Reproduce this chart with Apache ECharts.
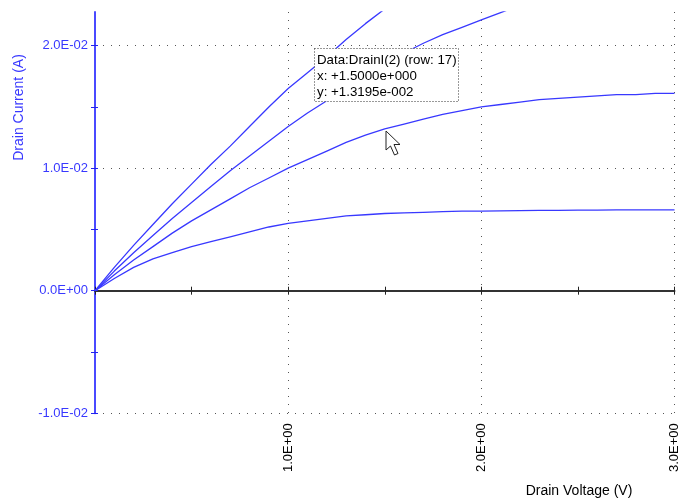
<!DOCTYPE html>
<html>
<head>
<meta charset="utf-8">
<script src="https://cdn.jsdelivr.net/npm/echarts@6/dist/echarts.min.js"></script>
<style>html,body{margin:0;padding:0;background:#fff}#c{width:681px;height:498px}</style>
</head>
<body>
<div id="c"></div>
<script>
// ---- data ----
var drainVoltage = [0,0.1,0.2,0.3,0.4,0.5,0.6,0.7,0.8,0.9,1.0,1.1,1.2,1.3,1.4,1.5,1.6,1.7,1.8,1.9,2.0,2.1,2.2,2.3,2.4,2.5,2.6,2.7,2.8,2.9,3.0];
var drainI1 = [0,0.0010,0.0019,0.0026,0.0031,0.0036,0.0040,0.0044,0.0048,0.0052,0.0055,0.0057,0.0059,0.0061,0.0062,0.0063,0.00635,0.0064,0.00645,0.0065,0.0065,0.00652,0.00654,0.00655,0.00656,0.00657,0.00658,0.00659,0.0066,0.0066,0.0066];
var drainI2 = [0,0.0013,0.0025,0.0036,0.0047,0.0057,0.0066,0.0075,0.0084,0.0092,0.0100,0.0107,0.0114,0.0121,0.0127,0.0132,0.0136,0.0140,0.0144,0.0147,0.0150,0.0152,0.0154,0.0156,0.0157,0.0158,0.0159,0.0160,0.0160,0.0161,0.0161];
var drainI3 = [0,0.0016,0.0031,0.0045,0.0059,0.0072,0.0085,0.0098,0.0110,0.0122,0.0134,0.0145,0.0155,0.0165,0.0176,0.0185,0.0194,0.0202,0.0209,0.0215,0.0221,0.0227,0.0233];
var drainI4 = [0,0.0019,0.0037,0.0054,0.0071,0.0087,0.0103,0.0118,0.0134,0.0150,0.0165,0.0178,0.0191,0.0205,0.0218,0.0230,0.0241];
var xTickValues = [1,2,3];
var xTickLabels = ['1.0E+00','2.0E+00','3.0E+00'];
var yTickValues = [-0.01,0,0.01,0.02];
var yTickLabels = ['-1.0E-02','0.0E+00','1.0E-02','2.0E-02'];
var yMinorTicks = [-0.01,-0.005,0,0.005,0.01,0.015,0.02];
var tipLines = ['Data:DrainI(2) (row: 17)','x: +1.5000e+000','y: +1.3195e-002'];

// ---- layout ----
var FONT = "'Liberation Sans', Arial, sans-serif";
var BLUE = '#3838ff';
var yMin = -0.01, yMax = 0.02275;

function pairs(ys){ return ys.map(function(y,i){ return [drainVoltage[i], y]; }); }
function labelFrom(vals, labels){
  return function(v){
    for (var i=0;i<vals.length;i++){ if (Math.abs(v - vals[i]) < 1e-9) return labels[i]; }
    return '';
  };
}
var dotted = {color:'#555', width:1, type:[1,7]};

var chart = echarts.init(document.getElementById('c'), null, {renderer:'canvas'});
var lineSeries = [drainI1, drainI2, drainI3, drainI4].map(function(d){
  return {type:'line', xAxisIndex:0, yAxisIndex:0, data:pairs(d), showSymbol:false, symbol:'none',
    clip:true, lineStyle:{color:BLUE, width:1.3}, silent:true, animation:false, z:5};
});

chart.setOption({
  animation:false,
  backgroundColor:'#fff',
  grid:[{left:95, right:3, top:12, bottom:84.8}],
  xAxis:[
    {type:'value', min:0, max:3, interval:0.5, position:'bottom',
      axisLine:{show:true, onZero:true, lineStyle:{color:'#333', width:2}},
      axisTick:{show:true, length:4, lineStyle:{color:'#222', width:1}},
      axisLabel:{show:false}, splitLine:{show:false}},
    {type:'value', min:0, max:3, interval:0.5, position:'bottom',
      axisLine:{show:false, onZero:true},
      axisTick:{show:true, inside:true, length:4, lineStyle:{color:'#222', width:1}},
      axisLabel:{show:false}, splitLine:{show:false}},
    {type:'value', min:0, max:3, interval:1, position:'bottom',
      axisLine:{show:false, onZero:false}, axisTick:{show:false},
      axisLabel:{show:true, rotate:90, margin:10, color:'#000', fontFamily:FONT, fontSize:13,
        formatter:labelFrom(xTickValues, xTickLabels), showMinLabel:false},
      splitLine:{show:true, lineStyle:dotted, showMinLine:false}}
  ],
  yAxis:[
    // line, outside ticks, labels
    {type:'value', min:yMin, max:yMax, interval:0.01, position:'left',
      axisLine:{show:true, onZero:false, lineStyle:{color:'#4a4aff', width:2}},
      axisTick:{show:true, length:4, customValues:yMinorTicks, lineStyle:{color:'#2222ee', width:1}},
      axisLabel:{show:true, margin:7, color:BLUE, fontFamily:FONT, fontSize:13,
        customValues:yTickValues, formatter:labelFrom(yTickValues, yTickLabels)},
      splitLine:{show:false}},
    // inside ticks
    {type:'value', min:yMin, max:yMax, interval:0.01, position:'left',
      axisLine:{show:false, onZero:false},
      axisTick:{show:true, inside:true, length:3, customValues:yMinorTicks, lineStyle:{color:'#2222ee', width:1}},
      axisLabel:{show:false}, splitLine:{show:false}},
    // horizontal grid lines only
    {type:'value', min:yMin, max:yMax, interval:0.01, position:'left',
      axisLine:{show:false, onZero:false}, axisTick:{show:false}, axisLabel:{show:false},
      splitLine:{show:true, lineStyle:dotted, showMaxLine:false}}
  ],
  series: lineSeries,
  graphic:[
    {type:'text', x:19, y:107.5, rotation:Math.PI/2,
      style:{text:'Drain Current (A)', fill:BLUE, font:'14px '+FONT, align:'center', verticalAlign:'middle'}, z:10},
    {type:'text', x:579, y:491,
      style:{text:'Drain Voltage (V)', fill:'#000', font:'14px '+FONT, align:'center', verticalAlign:'middle'}, z:10},
    {type:'rect', shape:{x:314.5, y:48.5, width:144, height:53},
      style:{fill:'#fff', stroke:'#333', lineWidth:1, lineDash:[1,2]}, z:20},
    {type:'text', x:317, y:60, style:{text:tipLines[0], fill:'#000', font:'13.3px '+FONT, verticalAlign:'middle'}, z:21},
    {type:'text', x:317, y:76, style:{text:tipLines[1], fill:'#000', font:'13.3px '+FONT, verticalAlign:'middle'}, z:21},
    {type:'text', x:317, y:92.5, style:{text:tipLines[2], fill:'#000', font:'13.3px '+FONT, verticalAlign:'middle'}, z:21},
    {type:'polygon', x:386, y:131,
      shape:{points:[[0,0],[0,19],[4.5,15],[8.5,24],[12,22.5],[8,13.5],[14,13.5]]},
      style:{fill:'#fff', stroke:'#222', lineWidth:1}, z:30}
  ]
});
</script>
</body>
</html>
